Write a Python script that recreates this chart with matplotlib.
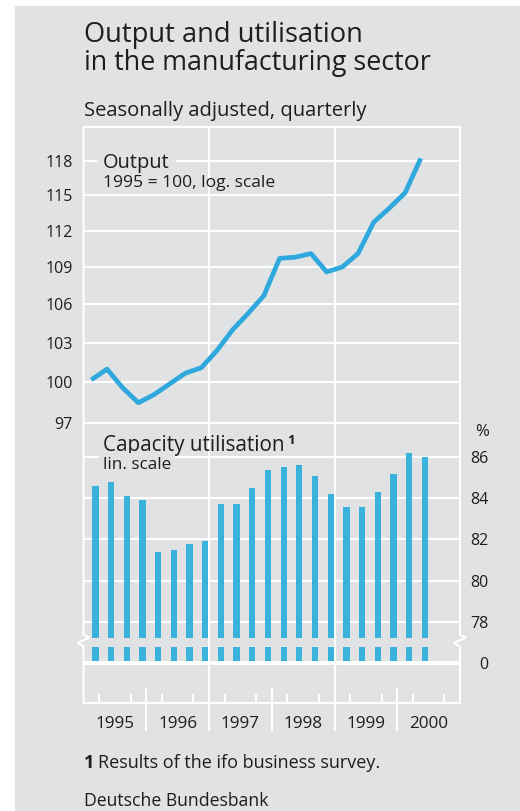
import numpy as np
import matplotlib.pyplot as plt
from matplotlib.patches import Rectangle
from matplotlib.ticker import FixedLocator, NullLocator

plt.rcParams['font.family'] = ['Open Sans', 'DejaVu Sans']

# quarterly values, 1995 Q1 .. 2000 Q2
output = [100.2, 101.0, 99.6, 98.5, 99.1, 99.9, 100.7, 101.1,
          102.4, 104.0, 105.3, 106.7, 109.7, 109.8, 110.1, 108.6,
          109.0, 110.1, 112.7, 113.9, 115.2, 118.2]
capacity = [84.6, 84.8, 84.1, 83.9, 81.4, 81.5, 81.8, 81.9,
            83.7, 83.7, 84.5, 85.4, 85.5, 85.6, 85.1, 84.2,
            83.6, 83.6, 84.3, 85.2, 86.2, 86.0]
years = [1995, 1996, 1997, 1998, 1999, 2000]
output_ticks = [97, 100, 103, 106, 109, 112, 115, 118]
capacity_ticks = [78, 80, 82, 84, 86]

BG = '#e1e2e4'
LINE = '#2fa9dd'
BAR = '#3ab3dc'
TEXT = '#1e1e1e'

W, H = 520, 811
def fx(px):
    return px / W
def fy(py):
    return 1 - py / H
def box(left, top, right, bottom):
    return [fx(left), fy(bottom), (right - left) / W, (bottom - top) / H]

L, R = 83.5, 460
TOP, BOT = 127, 703
OUT_BOT = 423.3
CAP_BOT = 638.3
LOW_TOP = 646.5

x_line = [1995 + 0.25 * q + 0.125 for q in range(len(output))]
x_bar = [1995 + 0.25 * q + 0.19 for q in range(len(capacity))]

fig = plt.figure(figsize=(5.2, 8.11), dpi=100, facecolor='white')
fig.add_artist(Rectangle((fx(15), 0), 1 - fx(15), fy(6), transform=fig.transFigure,
                         facecolor=BG, edgecolor='none', zorder=-10))

# frame axes: vertical grid, frame with break marks, quarter ticks, year labels
ax_f = fig.add_axes(box(L, TOP, R, BOT))
ax_f.set_xlim(1995, 2001)
ax_f.set_ylim(0, 1)
ax_f.patch.set_visible(False)
for s in ax_f.spines.values():
    s.set_visible(False)
ax_f.set_yticks([])
ax_f.set_xticks([y + 0.5 for y in years])
ax_f.set_xticklabels([str(y) for y in years])
ax_f.set_xticks([y + q * 0.25 for y in years for q in (1, 2, 3)], minor=True)
ax_f.tick_params(axis='x', which='major', length=0, pad=9, labelsize=12.3, labelcolor=TEXT)
ax_f.tick_params(axis='x', which='minor', direction='in', length=6.5, width=1.4, color='white')

tr = ax_f.get_xaxis_transform()
def ay(py):
    return (BOT - py) / (BOT - TOP)
zx = 0.095
for x0 in (1995, 2001):
    ax_f.plot([x0, x0, x0 + zx, x0 - zx, x0, x0],
              [1, ay(635), ay(637.5), ay(643), ay(646.5), 0],
              transform=tr, color='white', lw=1.5, clip_on=False, solid_joinstyle='miter')
ax_f.plot([1995, 2001], [1, 1], transform=tr, color='white', lw=1.5, clip_on=False)
ax_f.plot([1995, 2001], [0, 0], transform=tr, color='white', lw=1.5, clip_on=False)
for xv in (1997, 1999):
    ax_f.plot([xv, xv], [0, 1], transform=tr, color='white', lw=1.5)
ax_f.vlines(years[1:], ay(731), ay(688), transform=tr, color='white', lw=1.5, clip_on=False)

# output, log scale
ax_o = fig.add_axes(box(L, TOP, R, OUT_BOT))
ax_o.set_xlim(1995, 2001)
ax_o.set_yscale('log')
ax_o.set_ylim(97, 121.0)
ax_o.patch.set_visible(False)
for s in ax_o.spines.values():
    s.set_visible(False)
ax_o.set_xticks([])
ax_o.yaxis.set_major_locator(FixedLocator(output_ticks))
ax_o.yaxis.set_minor_locator(NullLocator())
ax_o.set_yticklabels([str(t) for t in output_ticks])
ax_o.tick_params(axis='y', length=0, pad=7.8, labelsize=11.5, labelcolor=TEXT)
for t in output_ticks:
    ax_o.axhline(t, color='white', lw=1.4, zorder=1, clip_on=False)
ax_o.plot(x_line, output, color=LINE, lw=3.4, zorder=3,
          solid_joinstyle='round', solid_capstyle='butt')

# capacity utilisation, linear scale
ax_c = fig.add_axes(box(L, OUT_BOT, R, CAP_BOT))
ax_c.set_xlim(1995, 2001)
ax_c.set_ylim(77.19, 87.65)
ax_c.patch.set_visible(False)
for s in ax_c.spines.values():
    s.set_visible(False)
ax_c.set_xticks([])
ax_c.yaxis.tick_right()
ax_c.set_yticks(capacity_ticks)
ax_c.set_yticklabels([str(t) for t in capacity_ticks])
ax_c.tick_params(axis='y', length=0, pad=20.2, labelsize=11.5, labelcolor=TEXT)
plt.setp(ax_c.get_yticklabels(), ha='right')
for t in capacity_ticks:
    ax_c.axhline(t, color='white', lw=1.4, zorder=1)
ax_c.bar(x_bar, capacity, width=0.1, color=BAR, zorder=2)

# broken lower part with zero line
ax_l = fig.add_axes(box(L, LOW_TOP, R, BOT))
ax_l.set_xlim(1995, 2001)
ax_l.set_ylim(-1.971, 0.779)
ax_l.patch.set_visible(False)
for s in ax_l.spines.values():
    s.set_visible(False)
ax_l.set_xticks([])
ax_l.yaxis.tick_right()
ax_l.set_yticks([0])
ax_l.set_yticklabels(['0'])
ax_l.tick_params(axis='y', length=0, pad=20.2, labelsize=11.5, labelcolor=TEXT)
plt.setp(ax_l.get_yticklabels(), ha='right')
ax_l.bar(x_bar, capacity, width=0.1, color=BAR, zorder=2)
ax_l.axhline(0, color='white', lw=2.8, zorder=3)

# texts
fig.text(fx(84), fy(41.7), 'Output and utilisation', fontsize=19.6, color=TEXT, va='baseline')
fig.text(fx(84), fy(70), 'in the manufacturing sector', fontsize=19.4, color=TEXT, va='baseline')
fig.text(fx(84), fy(116), 'Seasonally adjusted, quarterly', fontsize=14.5, color=TEXT, va='baseline')
fig.text(fx(103), fy(167.7), 'Output', fontsize=14.4, color=TEXT, va='baseline',
         bbox=dict(facecolor=BG, edgecolor='none', pad=4.5))
fig.text(fx(103), fy(186.7), '1995 = 100, log. scale', fontsize=12.6, color=TEXT, va='baseline')
cap_txt = fig.text(fx(103), fy(450.7), 'Capacity utilisation', fontsize=14.9, color=TEXT,
                   va='baseline')
ax_c.annotate('1', xy=(1, 0), xycoords=cap_txt, xytext=(2, 6), textcoords='offset points',
              fontsize=9.5, color=TEXT, fontweight='bold', va='bottom', annotation_clip=False)
fig.text(fx(103), fy(469.3), 'lin. scale', fontsize=12.3, color=TEXT, va='baseline',
         bbox=dict(facecolor=BG, edgecolor='none', pad=3))
fig.text(fx(489), fy(431.7), '%', fontsize=12, color=TEXT, ha='right', va='center')
fig.text(fx(84), fy(768.3), '1', fontsize=13, color=TEXT, va='baseline', fontweight='bold')
fig.text(fx(98), fy(768.3), 'Results of the ifo business survey.', fontsize=13, color=TEXT, va='baseline')
fig.text(fx(84), fy(806), 'Deutsche Bundesbank', fontsize=12.7, color=TEXT, va='baseline')

fig.savefig('out.png', dpi=100, facecolor=fig.get_facecolor())
